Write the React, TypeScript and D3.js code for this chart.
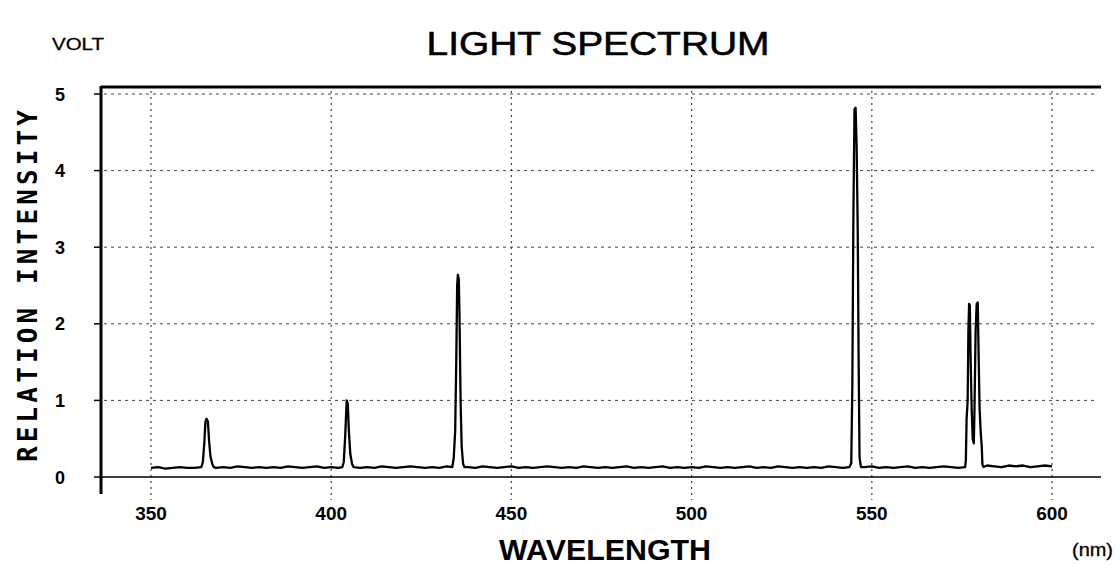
import * as d3 from 'd3'

// baseline noise, one reading every 2 nm from 350 to 600
const BASELINE_START = 350
const BASELINE_STEP = 2
const BASELINE = [
  0.12, 0.13, 0.11, 0.12, 0.13, 0.12, 0.12, 0.14, 0.13, 0.12,
  0.13, 0.12, 0.14, 0.13, 0.12, 0.13, 0.12, 0.13, 0.12, 0.14,
  0.13, 0.12, 0.13, 0.14, 0.12, 0.13, 0.12, 0.13, 0.14, 0.12,
  0.13, 0.12, 0.14, 0.13, 0.12, 0.13, 0.14, 0.13, 0.12, 0.13,
  0.12, 0.14, 0.13, 0.12, 0.13, 0.12, 0.14, 0.13, 0.12, 0.13,
  0.14, 0.12, 0.13, 0.12, 0.13, 0.14, 0.13, 0.12, 0.13, 0.12,
  0.14, 0.13, 0.12, 0.13, 0.12, 0.13, 0.14, 0.12, 0.13, 0.12,
  0.13, 0.14, 0.12, 0.13, 0.12, 0.13, 0.12, 0.14, 0.13, 0.12,
  0.13, 0.12, 0.13, 0.14, 0.12, 0.13, 0.12, 0.14, 0.13, 0.12,
  0.13, 0.12, 0.13, 0.12, 0.14, 0.13, 0.12, 0.13, 0.12, 0.13,
  0.14, 0.12, 0.13, 0.12, 0.13, 0.14, 0.12, 0.13, 0.12, 0.13,
  0.14, 0.13, 0.12, 0.13, 0.14, 0.13, 0.15, 0.14, 0.13, 0.15,
  0.14, 0.15, 0.13, 0.14, 0.15, 0.14,
]

// emission lines, [nm, volt]
const PEAK_365: [number, number][] = [
  [364.0, 0.13], [364.4, 0.2], [364.8, 0.45], [365.1, 0.72], [365.4, 0.76],
  [365.8, 0.72], [366.1, 0.48], [366.5, 0.27], [367.0, 0.17], [367.4, 0.13],
]
const PEAK_405: [number, number][] = [
  [403.1, 0.13], [403.5, 0.2], [403.9, 0.55], [404.3, 1.0], [404.6, 0.96],
  [404.9, 0.6], [405.3, 0.3], [405.8, 0.17], [406.2, 0.13],
]
const PEAK_436: [number, number][] = [
  [433.6, 0.13], [434.0, 0.25], [434.4, 0.6], [434.7, 1.5], [434.95, 2.5],
  [435.15, 2.64], [435.4, 2.58], [435.6, 2.1], [435.9, 1.0], [436.2, 0.4],
  [436.6, 0.17], [437.0, 0.13],
]
const PEAK_546: [number, number][] = [
  [543.8, 0.13], [544.3, 0.18], [544.6, 1.2], [544.9, 3.45], [545.2, 4.8],
  [545.5, 4.82], [545.8, 4.3], [546.1, 3.2], [546.35, 1.5], [546.6, 0.25],
  [547.0, 0.13],
]
const PEAK_578: [number, number][] = [
  [575.9, 0.13], [576.1, 0.22], [576.3, 0.75], [576.6, 1.0], [576.8, 1.9],
  [577.0, 2.26], [577.2, 2.24], [577.4, 1.6], [577.7, 0.9], [578.0, 0.5],
  [578.3, 0.44], [578.5, 0.9], [578.8, 1.9], [579.1, 2.26], [579.4, 2.28],
  [579.6, 1.7], [579.9, 0.9], [580.2, 0.6], [580.5, 0.4], [580.7, 0.16],
  [581.0, 0.13],
]
const PEAKS = [PEAK_365, PEAK_405, PEAK_436, PEAK_546, PEAK_578]

const X_TICKS = [350, 400, 450, 500, 550, 600]
const Y_TICKS = [0, 1, 2, 3, 4, 5]

const W = 1120
const H = 566

export default function App() {
  const x = d3.scaleLinear().domain([350, 600]).range([151, 1052])
  const y = d3.scaleLinear().domain([0, 5]).range([477, 94])

  // merge baseline readings with the line profiles
  const pts: [number, number][] = []
  BASELINE.forEach((v, i) => {
    const nm = BASELINE_START + i * BASELINE_STEP
    const inPeak = PEAKS.some(p => nm >= p[0][0] && nm <= p[p.length - 1][0])
    if (!inPeak) pts.push([nm, v])
  })
  PEAKS.forEach(p => p.forEach(d => pts.push(d)))
  pts.sort((a, b) => a[0] - b[0])

  const line = d3.line<[number, number]>()
    .x(d => x(d[0]))
    .y(d => y(d[1]))

  const left = 101
  const right = 1101
  const top = 87

  return (
    <svg width={W} height={H} style={{ position: 'absolute', left: 0, top: 0, background: '#fff' }}
      fontFamily="'Liberation Sans', Arial, sans-serif">
      {/* grid */}
      {Y_TICKS.filter(t => t > 0).map(t => (
        <line key={`h${t}`} x1={left + 3} x2={1095} y1={y(t)} y2={y(t)}
          stroke="#444" strokeWidth={1} strokeDasharray="3,4" />
      ))}
      {X_TICKS.map(t => (
        <line key={`v${t}`} x1={x(t)} x2={x(t)} y1={top + 4} y2={500}
          stroke="#444" strokeWidth={1.2} strokeDasharray="2,4" />
      ))}

      {/* frame */}
      <line x1={left} x2={1101} y1={y(0)} y2={y(0)} stroke="#000" strokeWidth={1.3} />
      <line x1={left} x2={right} y1={top} y2={top} stroke="#000" strokeWidth={3} />
      <line x1={left} x2={left} y1={top - 1} y2={494} stroke="#000" strokeWidth={3} />
      {Y_TICKS.map(t => (
        <line key={`yt${t}`} x1={94} x2={left} y1={y(t)} y2={y(t)} stroke="#000" strokeWidth={1.5} />
      ))}

      {/* spectrum */}
      <path d={line(pts) || ''} fill="none" stroke="#000" strokeWidth={2.3} strokeLinejoin="round" />

      {/* tick labels */}
      {Y_TICKS.map(t => (
        <text key={`yl${t}`} x={60} y={y(t) + 6.5} textAnchor="middle" fontSize={18} fontWeight="bold">{t}</text>
      ))}
      {X_TICKS.map(t => (
        <text key={`xl${t}`} x={x(t)} y={520} textAnchor="middle" fontSize={19} fontWeight="bold">{t}</text>
      ))}

      {/* titles */}
      <text x={52} y={50} fontSize={17} stroke="#000" strokeWidth={0.3}
        textLength={52} lengthAdjust="spacingAndGlyphs">VOLT</text>
      <text x={598} y={55} textAnchor="middle" fontSize={34} stroke="#000" strokeWidth={0.6}
        textLength={343} lengthAdjust="spacingAndGlyphs">LIGHT SPECTRUM</text>
      <text transform={`translate(37, 286) rotate(-90)`} textAnchor="middle" fontSize={26} fontWeight="bold"
        fontFamily="'DejaVu Sans Mono', monospace" textLength={352} lengthAdjust="spacing">RELATION INTENSITY</text>
      <text x={605} y={560} textAnchor="middle" fontSize={29} fontWeight="bold"
        textLength={212} lengthAdjust="spacingAndGlyphs">WAVELENGTH</text>
      <text x={1072} y={556} fontSize={18} stroke="#000" strokeWidth={0.3}
        textLength={41} lengthAdjust="spacingAndGlyphs">(nm)</text>
    </svg>
  )
}
